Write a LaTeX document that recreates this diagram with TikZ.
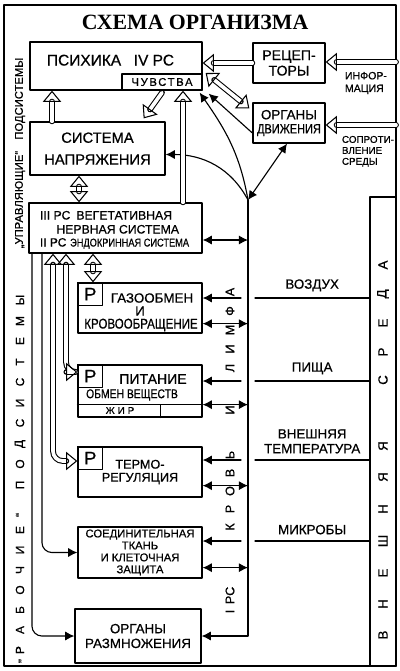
\documentclass[tikz,border=0pt]{standalone}
\usepackage{fontspec}
\setmainfont{Liberation Sans}[FakeBold=0.6]
\newfontfamily\narrowfont[FakeStretch=0.82,FakeBold=0.6]{Liberation Sans}
\newfontfamily\titlefont{Liberation Serif}
\usetikzlibrary{arrows.meta,calc}
\newcommand\fsz[2]{\fontsize{#1}{#2}\selectfont}
\tikzset{
  box/.style={draw,line width=.9pt,inner sep=0pt,align=center,font=\fsz{10}{11}},
  fl/.style={line width=.8pt,-{Latex[length=6.5pt,width=6.5pt]}},
  fl2/.style={line width=.8pt,{Latex[length=6.5pt,width=6.5pt]}-{Latex[length=6.5pt,width=6.5pt]}},
  hol/.style={double,double distance=2.6pt,line width=.75pt,-{Triangle[open,length=8pt,width=13pt,line width=.75pt]}},
  hol2/.style={hol,{Triangle[open,length=8pt,width=13pt,line width=.75pt]}-{Triangle[open,length=8pt,width=13pt,line width=.75pt]}},
  pbox/.style={draw,line width=.8pt,inner sep=0pt,minimum width=.62cm,minimum height=.56cm,font=\fsz{13}{13}},
  envtxt/.style={font=\fsz{9.5}{10.5},align=center},
  rl/.style={rotate=90,font=\fsz{9}{9}},
}
\begin{document}
\begin{tikzpicture}[x=0.025cm,y=-0.025cm,line join=round,line cap=round]
\useasboundingbox (0,0) rectangle (400,671);
\draw[line width=1pt] (4,5) rectangle (396,666);
\node[font=\titlefont\bfseries\fsz{15.5}{16}] (title) at (195,22) {СХЕМА ОРГАНИЗМА};
% upper boxes
\node[box,minimum width=4.3cm,minimum height=1.2cm] (psy) at (116,66) {};
\node[anchor=base west,font=\fsz{11}{11}] (psyA) at (42,65.5) {ПСИХИКА\hspace{9pt}IV РС};
\node[box,anchor=south east,minimum width=2cm,minimum height=.4cm,font=\fsz{8}{8}\addfontfeature{LetterSpace=15}] (feel) at (psy.south east) {ЧУВСТВА};
\node[box,minimum width=1.8cm,minimum height=1cm] (rec) at (289,63) {РЕЦЕП-\\ТОРЫ};
\node[box,minimum width=1.8cm,minimum height=1cm,font=\fsz{9.5}{10}] (mov) at (289,123) {ОРГАНЫ\\{\narrowfont ДВИЖЕНИЯ}};
\node[box,minimum width=3.375cm,minimum height=1.325cm,font=\fsz{10.5}{15.5}] (tens) at (97.5,148.5) {СИСТЕМА\\НАПРЯЖЕНИЯ};
\node[box,minimum width=4.325cm,minimum height=1.25cm] (veg) at (115.5,228) {};
\node[anchor=base west,font=\fsz{8.7}{9}] (vegA) at (35,219.5) {III РС};
\node[anchor=base east,font=\fsz{8.7}{9}] (vegB) at (177,219.5) {ВЕГЕТАТИВНАЯ};
\node[anchor=base east,font=\fsz{8.7}{9}] (vegC) at (184,233.5) {НЕРВНАЯ СИСТЕМА};
\node[anchor=base west,font=\fsz{8.5}{9}] (vegD) at (35,246.5) {II РС};
\node[anchor=base east,font=\narrowfont\fsz{8}{9}] (vegE) at (194,246.5) {ЭНДОКРИННАЯ СИСТЕМА};
% lower boxes
\node[box,minimum width=3.1cm,minimum height=1.25cm] (gas) at (140,308) {};
\node[pbox,anchor=north west] (gasP) at (gas.north west) {Р};
\node[font=\fsz{9.5}{10}] (gasA) at (152,298) {ГАЗООБМЕН};
\node[font=\fsz{9.5}{10}] (gasB) at (140,311) {И};
\node[font=\narrowfont\fsz{10}{10}] (gasC) at (141,325) {КРОВООБРАЩЕНИЕ};
\node[box,minimum width=3.1cm,minimum height=1.3cm] (food) at (140,391) {};
\node[pbox,anchor=north west] (foodP) at (food.north west) {Р};
\node[font=\fsz{10}{10}] (foodA) at (153,379) {ПИТАНИЕ};
\node[font=\narrowfont\fsz{9}{9}] (foodB) at (132,395) {ОБМЕН ВЕЩЕСТВ};
\draw[line width=.8pt] ($(food.south west)+(0,-13)$) -- ($(food.south east)+(0,-13)$)
  ($(food.south west)+(83,0)$) -- ++(0,-13);
\node[font=\fsz{7}{7}\addfontfeature{LetterSpace=30}] (foodC) at (120,410.5) {ЖИР};
\node[box,minimum width=3.1cm,minimum height=1.25cm,font=\fsz{9}{9.3}] (therm) at (140,472) {ТЕРМО-\\РЕГУЛЯЦИЯ};
\node[pbox,anchor=north west] (thermP) at (therm.north west) {Р};
\node[box,minimum width=3.1cm,minimum height=1.275cm,font=\fsz{8}{8.5}] (tissue) at (140,552.5) {СОЕДИНИТЕЛЬНАЯ\\ТКАНЬ\\И КЛЕТОЧНАЯ\\ЗАЩИТА};
\node[box,minimum width=3.15cm,minimum height=1.35cm,font=\fsz{9.5}{10.5}] (repro) at (138,636) {ОРГАНЫ\\РАЗМНОЖЕНИЯ};
\node[draw,line width=.9pt,inner sep=0pt,minimum width=.65cm,minimum height=11.725cm] (env) at (383,431.5) {};
% trunk and points
\coordinate (jn) at (248,200);
\coordinate (air) at (255,298);
\coordinate (meal) at (255,381);
\coordinate (temp) at (255,460);
\coordinate (germ) at (255,541);
\coordinate (inf) at (396,62);
\coordinate (res) at (396,125);
\draw[fl] (jn) |- (repro.east);
\draw[fl] (jn) to[out=118,in=0] ($(tens.east)+(0,6)$);
\draw[fl] (jn) to[out=100,in=-55] ($(psy.south east)+(-3,2)$);
\draw[fl2] (jn) -- ($(mov.south)+(-2,0)$);
\draw[fl] ($(mov.west)+(0,10)$) -- ($(psy.south east)+(6,3)$);
\draw[fl2] ($(veg.east)+(0,12)$) coordinate (v2) -- (v2 -| jn);
\draw[fl] ($(air)+(-14,0)$) -- (air -| gas.east);
\draw[fl] ($(meal)+(-14,0)$) -- (meal -| food.east);
\draw[fl] ($(temp)+(-14,0)$) -- (temp -| therm.east);
\draw[fl] ($(germ)+(-14,0)$) -- (germ -| tissue.east);
\draw[fl2] ($(gas.south east)+(0,-10)$) coordinate (g2) -- (g2 -| jn);
\draw[fl2] ($(food.south east)+(0,-13)$) coordinate (f2) -- (f2 -| jn);
\draw[fl2] ($(therm.south east)+(0,-12)$) coordinate (t2) -- (t2 -| jn);
\draw[fl2] ($(tissue.south east)+(0,-11)$) coordinate (s2) -- (s2 -| jn);
\draw[fl,rounded corners=7pt] (veg.south -| 32,0) |- (repro.west);
\draw[fl,rounded corners=7pt] (veg.south -| 42,0) |- (tissue.west);
% environment
\draw[line width=.8pt] (air) -- (air -| env.west) node[envtxt,midway,above=1pt] (airL) {ВОЗДУХ};
\draw[line width=.8pt] (meal) -- (meal -| env.west) node[envtxt,midway,above=1pt] (mealL) {ПИЩА};
\draw[line width=.8pt] (temp) -- (temp -| env.west) node[envtxt,midway,above=1pt] (tempL) {ВНЕШНЯЯ\\ТЕМПЕРАТУРА};
\draw[line width=.8pt] (germ) -- (germ -| env.west) node[envtxt,midway,above=1pt] (germL) {МИКРОБЫ};
\node[font=\fsz{7.5}{9},anchor=north west,align=left] (infL) at (340,67) {ИНФОР-\\МАЦИЯ};
\node[font=\fsz{7}{7.8},anchor=north west,align=left] (resL) at (337,131) {СОПРОТИ-\\ВЛЕНИЕ\\СРЕДЫ};
% hollow arrows
\draw[hol] (rec.west) -- (rec.west -| psy.east);
\draw[hol] (inf) -- (inf -| rec.east);
\draw[hol] (res) -- (res -| mov.east);
\draw[hol2] ($(psy.east)+(3,7)$) -- ($(mov.north west)+(-3,6)$);
\draw[hol] ($(feel.south)+(0,2)$) -- ($(tens.north east)+(-22,-3)$);
\draw[hol] (veg.north -| 183,0) -- (psy.south -| 183,0);
\draw[hol] (tens.north -| 52,0) -- (psy.south -| 52,0);
\draw[hol2] (tens.south -| 79,0) -- (veg.north -| 79,0);
\draw[hol2] (veg.south -| 93,0) -- (gas.north -| 93,0);
\draw[hol2,rounded corners=7pt] (veg.south -| 53,0) |- ($(therm.west)+(0,-11)$);
\draw[hol2,rounded corners=7pt] (veg.south -| 66,0) |- ($(food.west)+(0,-19)$);
% spaced letters
\node[rotate=90,font=\fsz{8}{8}] (ctrl) at (20,153) {„УПРАВЛЯЮЩИЕ“\quad ПОДСИСТЕМЫ};
\foreach \ch/\yy [count=\i] in {„/661,Р/650,А/630,Б/610,О/590,Ч/570,И/550,Е/530,“/515,П/485,О/464,Д/444,С/423,И/403,С/382,Т/362,Е/341,М/321,Ы/300}
  \node[rotate=90,font=\fsz{8.5}{8.5}] (wk\i) at (20,\yy) {\ch};
\foreach \ch/\yy [count=\i] in {Л/368,И/349,М/330,Ф/311,А/292,И/410,К/527,Р/509,О/491,В/473,Ь/455}
  \node[rl] (lt\i) at (230,\yy) {\ch};
\node[rl] (rs1) at (230,600) {I\hspace{4pt}РС};
\foreach \ch/\yy [count=\i] in {В/635,Н/604,Е/573,Ш/541,Н/509,Я/477,Я/446,С/380,Р/352,Е/323,Д/294,А/265}
  \node[rotate=90,font=\fsz{9.5}{9.5}] (ev\i) at (383,\yy) {\ch};
\end{tikzpicture}
\end{document}
